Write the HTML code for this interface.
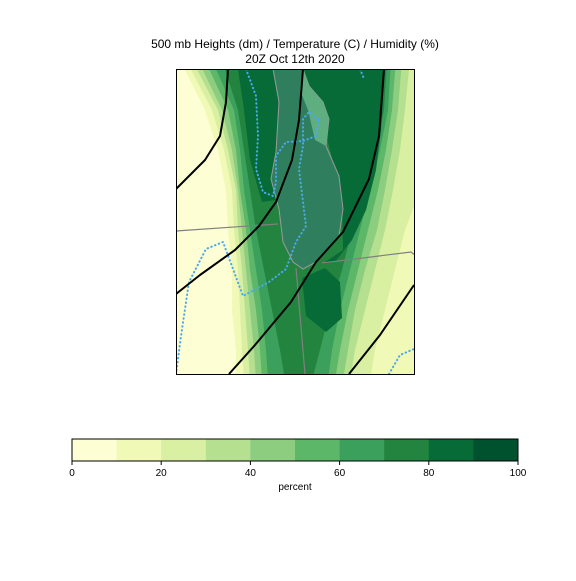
<!DOCTYPE html>
<html><head><meta charset="utf-8"><style>
body{margin:0;background:#fff;font-family:"Liberation Sans","DejaVu Sans",sans-serif}
</style></head><body>
<svg id="s" width="576" height="576" xmlns="http://www.w3.org/2000/svg">
<text x="295" y="48" font-size="12" text-anchor="middle">500 mb Heights (dm) / Temperature (C) / Humidity (%)</text>
<text x="295" y="63" font-size="12" text-anchor="middle">20Z Oct 12th 2020</text>
<defs><clipPath id="mc"><rect x="176" y="69" width="238" height="305"/></clipPath></defs>
<g id="map" clip-path="url(#mc)"></g>
<rect x="176.5" y="69.5" width="238" height="305" fill="none" stroke="#000" stroke-width="1"/>
<g id="cb"></g>
<text x="295" y="490" font-size="10" text-anchor="middle">percent</text>
</svg>
<script>
const levels=[0,10,20,30,40,50,60,70,80,90,100];
const colors=["#fdfed4","#f0f9b5","#d9f0a3","#b5e08f","#8dcd7f","#5db769","#3aa05b","#23843f","#066b37","#00512d"];
const rows=[69,110,150,190,230,270,310,350,374];
const bandLeft=[[180,205,218,226,228,232,232,236,236],[186,212,224,232,234,238,240,242,244],[192,218,228,236,238,242,245,248,250],[198,222,232,238,242,246,250,254,256],[205,228,236,240,246,250,256,260,262],[212,234,240,244,250,256,262,266,268],[222,238,244,250,256,264,272,280,285]];
const bandRight=[[420,420,420,420,420,420,420,420,420],[420,420,420,420,405,395,385,375,370],[410,405,400,393,385,375,365,355,350],[402,398,392,385,377,365,355,348,343],[396,392,386,378,368,358,348,340,335],[391,388,380,370,360,350,340,332,328],[387,384,376,364,352,342,330,320,312]];
const wetLeft=[[238,69],[282,69],[279,140],[276,200],[262,202],[250,160],[244,110]];
const wetRight=[[303,69],[385,69],[381,130],[376,170],[366,210],[352,240],[335,262],[322,264],[343,250],[342,200],[330,150],[320,110]];
const wetLow=[[302,278],[325,268],[340,282],[342,318],[326,332],[306,316]];
const lake=[[273,69],[303,69],[309,86],[323,102],[329,119],[326,146],[339,176],[343,209],[339,236],[316,262],[303,269],[293,262],[283,242],[279,209],[271,179],[276,152],[279,102]];
const lakeLight=[[303,69],[309,86],[323,102],[329,119],[326,146],[315,140],[308,110],[300,90]];
const hgt=[[[228,69],[226,102],[220,136],[205,160],[176,189]],[[303,69],[299,120],[292,160],[276,202],[259,226],[235,250],[200,275],[176,294]],[[229,374],[255,345],[291,302],[316,262],[343,232],[369,179],[379,136],[384,69]],[[349,374],[380,335],[414,285]]];
const temp=[[[246,69],[256,96],[258,136],[256,169],[263,192],[273,196],[276,182],[276,156],[286,142],[303,141],[316,136],[319,119],[309,112],[303,119],[303,146],[299,169],[303,202],[306,226],[296,242],[286,269],[269,282],[243,296],[233,269],[223,242],[206,249],[189,282],[181,336],[176,374]],[[360,69],[364,79]],[[389,374],[400,355],[414,349]]];
const borders=[[[176,231],[278,224]],[[296,268],[305,374]],[[322,263],[411,252],[416,256]]];
const NS="http://www.w3.org/2000/svg";
const map=document.getElementById('map');
function mk(t,a,p){const e=document.createElementNS(NS,t);for(const k in a)e.setAttribute(k,a[k]);p.appendChild(e);return e;}
const pts=a=>a.map(p=>p.join(',')).join(' ');
let bg=mk('rect',{x:176,y:69,width:238,height:305,fill:colors[0]},map);


bandLeft.forEach((L,i)=>{const R=bandRight[i];const poly=[];rows.forEach((y,j)=>poly.push([L[j],y]));for(let j=rows.length-1;j>=0;j--)poly.push([R[j],rows[j]]);
poly[0][1]=60;poly[poly.length-1][1]=60;poly[rows.length-1][1]=380;poly[rows.length][1]=380;
const e=mk('polygon',{points:pts(poly),fill:colors[i+1]},map);

});
[wetLeft,wetRight,wetLow].forEach(w=>{const e=mk('polygon',{points:pts(w),fill:colors[8]},map);

});
const lk=mk('polygon',{points:pts(lake),fill:"#2f7f5f",stroke:"#9a9a9a","stroke-width":1},map);


const ll=mk('polygon',{points:pts(lakeLight),fill:"#5fae80"},map);


borders.forEach(b=>{const e=mk('polyline',{points:pts(b),fill:'none',stroke:'#808080','stroke-width':1.2},map);

});
temp.forEach(t=>{const e=mk('polyline',{points:pts(t),fill:'none',stroke:'#4aa8ee','stroke-width':2,'stroke-dasharray':'0.5 3.5','stroke-linecap':'round'},map);

});
hgt.forEach(h=>{const e=mk('polyline',{points:pts(h),fill:'none',stroke:'#000','stroke-width':2,'stroke-linejoin':'round'},map);

});
const cb=document.getElementById('cb');
const x0=72,x1=518,cw=(x1-x0)/100;
colors.forEach((c,i)=>{const e=mk('rect',{x:x0+levels[i]*cw,y:439,width:10*cw+0.3,height:22,fill:c},cb);

});
mk('rect',{x:x0,y:439,width:x1-x0,height:22,fill:'none',stroke:'#000','stroke-width':1},cb);
[0,20,40,60,80,100].forEach(v=>{const x=x0+v*cw;mk('line',{x1:x,x2:x,y1:461,y2:465,stroke:'#000'},cb);
const t=mk('text',{x:x,y:476,'font-size':10,'text-anchor':'middle'},cb);t.textContent=v;

});
</script>
</body></html>
